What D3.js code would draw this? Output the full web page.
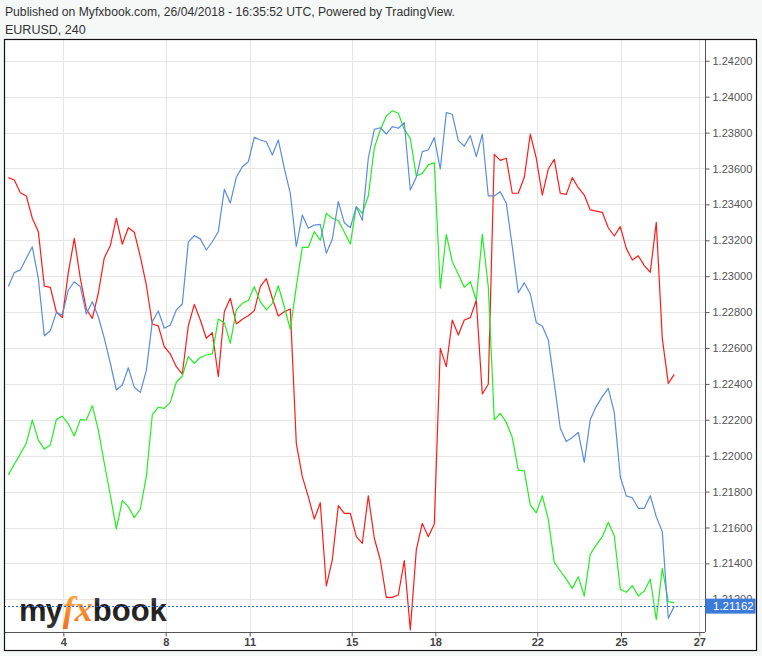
<!DOCTYPE html>
<html><head><meta charset="utf-8">
<script src="https://cdn.jsdelivr.net/npm/d3@7"></script>
<style>
html,body{margin:0;padding:0;background:#f4f8f7;}
svg{display:block;}
text{font-family:"Liberation Sans",Arial,sans-serif;}
</style></head>
<body>
<svg id="chart" width="762" height="656"></svg>
<script>
// ---------- data ----------
const headerLine1 = "Published on Myfxbook.com, 26/04/2018 - 16:35:52 UTC, Powered by TradingView.";
const headerLine2 = "EURUSD, 240";
const dayLabels = ["4","8","11","15","18","22","25","27"];
const dayBarPos = [9.17, 26.23, 40.23, 57.23, 71.17, 88.17, 102.12, 115.17];
const priceTicks = [1.212,1.214,1.216,1.218,1.220,1.222,1.224,1.226,1.228,1.230,1.232,1.234,1.236,1.238,1.240,1.242];
const lastPrice = 1.21162;

const seriesRed = [
1.23549,1.23536,1.23465,1.23447,1.23323,1.23248,1.22945,1.22938,1.22802,1.22769,
1.23020,1.23211,1.22988,1.22816,1.22765,1.22905,1.23103,1.23170,1.23323,1.23178,
1.23270,1.23245,1.23109,1.22951,1.22734,1.22723,1.22607,1.22567,1.22496,1.22455,
1.22724,1.22843,1.22756,1.22654,1.22685,1.22440,1.22802,1.22877,1.22734,1.22760,
1.22780,1.22808,1.22942,1.22986,1.22877,1.22778,1.22802,1.22817,1.22069,1.21883,
1.21772,1.21647,1.21738,1.21274,1.21419,1.21722,1.21679,1.21679,1.21549,1.21512,
1.21777,1.21540,1.21419,1.21211,1.21211,1.21224,1.21415,1.21029,1.21475,1.21623,
1.21549,1.21620,1.22598,1.22496,1.22756,1.22672,1.22756,1.22769,1.22866,1.22344,
1.22398,1.23679,1.23645,1.23657,1.23462,1.23462,1.23551,1.23791,1.23657,1.23452,
1.23597,1.23651,1.23462,1.23456,1.23549,1.23493,1.23452,1.23369,1.23363,1.23356,
1.23270,1.23224,1.23276,1.23155,1.23090,1.23114,1.23059,1.23022,1.23300,1.22654,
1.22403,1.22453];

const seriesBlue = [
1.22942,1.23020,1.23035,1.23100,1.23164,1.22988,1.22668,1.22696,1.22797,1.22784,
1.22923,1.22969,1.22942,1.22789,1.22858,1.22774,1.22654,1.22515,1.22366,1.22394,
1.22490,1.22381,1.22353,1.22474,1.22747,1.22806,1.22710,1.22728,1.22812,1.22845,
1.23190,1.23226,1.23208,1.23146,1.23192,1.23248,1.23484,1.23408,1.23551,1.23610,
1.23638,1.23774,1.23759,1.23749,1.23675,1.23759,1.23601,1.23462,1.23164,1.23341,
1.23267,1.23285,1.23289,1.23128,1.23206,1.23415,1.23298,1.23270,1.23387,1.23311,
1.23657,1.23818,1.23827,1.23792,1.23833,1.23824,1.23855,1.23480,1.23551,1.23694,
1.23703,1.23772,1.23597,1.23911,1.23902,1.23755,1.23725,1.23783,1.23666,1.23791,
1.23447,1.23447,1.23471,1.23406,1.23164,1.22908,1.22964,1.22901,1.22741,1.22723,
1.22645,1.22403,1.22153,1.22079,1.22101,1.22130,1.21963,1.22201,1.22275,1.22329,
1.22375,1.22240,1.21883,1.21776,1.21766,1.21707,1.21707,1.21777,1.21660,1.21577,
1.21094,1.21162];

const seriesGreen = [
1.21893,1.21952,1.22010,1.22069,1.22200,1.22087,1.22037,1.22060,1.22201,1.22221,
1.22177,1.22110,1.22201,1.22199,1.22279,1.22144,1.21958,1.21781,1.21592,1.21750,
1.21716,1.21655,1.21703,1.21883,1.22227,1.22270,1.22264,1.22297,1.22409,1.22444,
1.22552,1.22515,1.22548,1.22561,1.22567,1.22762,1.22741,1.22626,1.22812,1.22849,
1.22865,1.22942,1.22858,1.22812,1.22849,1.22947,1.22830,1.22704,1.22942,1.23161,
1.23161,1.23248,1.23200,1.23350,1.23323,1.23310,1.23246,1.23179,1.23387,1.23350,
1.23447,1.23714,1.23815,1.23892,1.23922,1.23908,1.23818,1.23768,1.23558,1.23573,
1.23620,1.23632,1.22933,1.23233,1.23081,1.23011,1.22938,1.22969,1.22866,1.23233,
1.22942,1.22200,1.22236,1.22186,1.22101,1.21920,1.21915,1.21725,1.21682,1.21777,
1.21645,1.21406,1.21359,1.21311,1.21261,1.21326,1.21218,1.21452,1.21503,1.21549,
1.21629,1.21554,1.21256,1.21239,1.21276,1.21218,1.21246,1.21313,1.21087,1.21373,
1.21187,1.21181];

// ---------- layout ----------
const svg = d3.select("#chart");
const frame = {left:4, top:39, right:757, bottom:651};
const plot = {left:4, top:39, right:705, bottom:632};

svg.append("rect").attr("x",0).attr("y",0).attr("width",762).attr("height",656).attr("fill","#f4f8f7");
svg.append("rect").attr("x",frame.left).attr("y",frame.top)
   .attr("width",frame.right-frame.left).attr("height",frame.bottom-frame.top).attr("fill","#ffffff");

// header
svg.append("text").attr("x",5).attr("y",16).attr("font-size",12.5).attr("fill","#333")
   .attr("textLength",450).attr("lengthAdjust","spacingAndGlyphs").text(headerLine1);
svg.append("text").attr("x",5).attr("y",34).attr("font-size",12.5).attr("fill","#333").text(headerLine2);

const x = d3.scaleLinear().domain([-0.72, 116.12]).range([plot.left, plot.right]);
const y = d3.scaleLinear().domain([1.212, 1.242]).range([599.3, 60.8]);

// grid
const grid = svg.append("g");
grid.selectAll("line.h").data(priceTicks).join("line")
  .attr("x1",plot.left).attr("x2",plot.right)
  .attr("y1",d=>Math.round(y(d))+0.5).attr("y2",d=>Math.round(y(d))+0.5)
  .attr("stroke","#e6e6e6").attr("stroke-width",1);
grid.selectAll("line.v").data(dayBarPos).join("line")
  .attr("y1",plot.top).attr("y2",plot.bottom)
  .attr("x1",d=>Math.round(x(d))+0.5).attr("x2",d=>Math.round(x(d))+0.5)
  .attr("stroke","#e6e6e6").attr("stroke-width",1);

// logo
const logo = svg.append("g");
const defs = svg.append("defs");
const lg = defs.append("linearGradient").attr("id","logoGrad").attr("x1",0).attr("y1",0).attr("x2",0).attr("y2",1);
lg.append("stop").attr("offset","0%").attr("stop-color","#6a6a6a");
lg.append("stop").attr("offset","45%").attr("stop-color","#1a1a1a");
lg.append("stop").attr("offset","100%").attr("stop-color","#3a3a3a");
const og = defs.append("linearGradient").attr("id","orangeGrad").attr("x1",0).attr("y1",0).attr("x2",0).attr("y2",1);
og.append("stop").attr("offset","0%").attr("stop-color","#fbb040");
og.append("stop").attr("offset","100%").attr("stop-color","#f26f21");
const lt = logo.append("text").attr("x",19).attr("y",621).attr("font-size",31).attr("font-weight","bold");
lt.append("tspan").attr("fill","url(#logoGrad)").attr("letter-spacing",-1).text("my");
lt.append("tspan").attr("fill","url(#orangeGrad)").attr("font-family","'Liberation Serif',serif").attr("font-style","italic")
  .attr("font-size",36).attr("dx",1).text("fx");
lt.append("tspan").attr("fill","url(#logoGrad)").attr("dx",0).text("book");

// lines
const line = d3.line().x((d,i)=>x(i)).y(d=>y(d));
const series = [
  {data:seriesRed, color:"#ff1a1a"},
  {data:seriesGreen, color:"#22ee22"},
  {data:seriesBlue, color:"#5b8ddc"}
];
svg.append("g").selectAll("path").data(series).join("path")
  .attr("d",d=>line(d.data)).attr("fill","none").attr("stroke",d=>d.color)
  .attr("stroke-width",1.2).attr("stroke-linejoin","round");

// last price dotted line
svg.append("line").attr("x1",plot.left).attr("x2",plot.right)
  .attr("y1",Math.round(y(lastPrice))+0.5).attr("y2",Math.round(y(lastPrice))+0.5)
  .attr("stroke","#2f6bd8").attr("stroke-width",1).attr("stroke-dasharray","2,2");

// axes
const yAxis = d3.axisRight(y).tickValues(priceTicks).tickSize(4).tickPadding(3).tickFormat(d3.format(".5f"));
const ya = svg.append("g").attr("transform",`translate(${plot.right+0.5},0)`).call(yAxis);
ya.select(".domain").attr("d",`M0,${plot.top}V${plot.bottom}`).attr("stroke","#555");
ya.selectAll(".tick line").attr("stroke","#555");
ya.selectAll(".tick text").attr("font-size",11).attr("fill","#555")
  .attr("font-family","'Liberation Sans',Arial,sans-serif");

const xAxis = d3.axisBottom(x).tickValues(dayBarPos).tickSize(4).tickPadding(2).tickFormat((d,i)=>dayLabels[i]);
const xa = svg.append("g").attr("transform",`translate(0,${plot.bottom+0.5})`).call(xAxis);
xa.select(".domain").attr("d",`M${plot.left},0H${plot.right}`).attr("stroke","#555");
xa.selectAll(".tick line").attr("stroke","#555");
xa.selectAll(".tick text").attr("font-size",11).attr("fill","#444").attr("font-weight","bold")
  .attr("font-family","'Liberation Sans',Arial,sans-serif");

// price label
const py = y(lastPrice);
svg.append("rect").attr("x",plot.right+0.5).attr("y",py-7.5).attr("width",50).attr("height",15).attr("fill","#3d7bd9");
svg.append("text").attr("x",plot.right+8).attr("y",py).attr("dy","0.35em").attr("font-size",11.5)
  .attr("fill","#fff").text(d3.format(".5f")(lastPrice));

// frame
svg.append("rect").attr("x",frame.left+0.5).attr("y",frame.top+0.5)
   .attr("width",frame.right-frame.left-1).attr("height",frame.bottom-frame.top-1)
   .attr("fill","none").attr("stroke","#111").attr("stroke-width",1.2);
</script>
</body></html>
